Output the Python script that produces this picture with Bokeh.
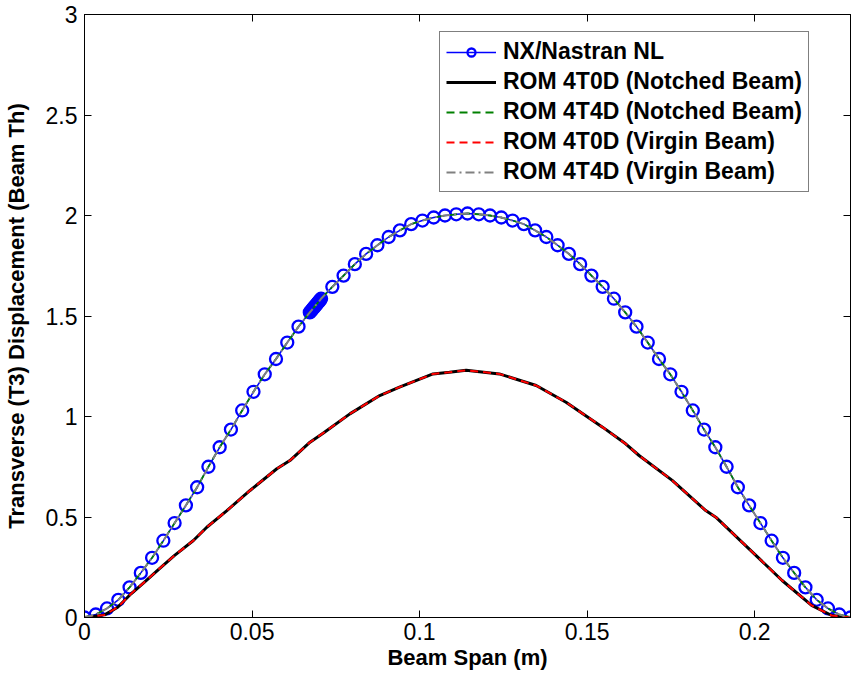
from bokeh.plotting import figure
from bokeh.models import (Range1d, FixedTicker, LinearAxis, Legend, LegendItem)
from bokeh.embed import file_html
from bokeh.resources import INLINE

# ---------------- data ----------------
# NX/Nastran NL nodal displacements (mesh nodes incl. refined notch region)
nastran_x = [0.0, 0.00336, 0.00672, 0.01009, 0.01345, 0.01681, 0.02017, 0.02353,
             0.02689, 0.03026, 0.03362, 0.03698, 0.04034, 0.04370, 0.04706, 0.05043,
             0.05379, 0.05715, 0.06051, 0.06387, 0.06724,
             0.0676, 0.0679, 0.0682, 0.0685, 0.0688, 0.0691, 0.0694, 0.0697, 0.0700, 0.0703,
             0.07060, 0.07396, 0.07732, 0.08068, 0.08404, 0.08741, 0.09077, 0.09413,
             0.09749, 0.10085, 0.10421, 0.10758, 0.11094, 0.11430, 0.11766, 0.12102,
             0.12439, 0.12775, 0.13111, 0.13447, 0.13783, 0.14119, 0.14456, 0.14792,
             0.15128, 0.15464, 0.15800, 0.16136, 0.16473, 0.16809, 0.17145, 0.17481,
             0.17817, 0.18154, 0.18490, 0.18826, 0.19162, 0.19498, 0.19834, 0.20171,
             0.20507, 0.20843, 0.21179, 0.21515, 0.21851, 0.22188, 0.22524, 0.22860]
nastran_y = [0.0, 0.015, 0.045, 0.088, 0.150, 0.222, 0.297, 0.382,
             0.470, 0.558, 0.648, 0.750, 0.847, 0.935, 1.030, 1.123,
             1.210, 1.286, 1.368, 1.447, 1.518,
             1.525, 1.531, 1.537, 1.543, 1.549, 1.555, 1.561, 1.567, 1.573, 1.579,
             1.586, 1.645, 1.701, 1.758, 1.809, 1.852, 1.893, 1.926,
             1.957, 1.975, 1.990, 2.000, 2.006, 2.010, 2.006, 2.000,
             1.990, 1.975, 1.957, 1.926, 1.893, 1.852, 1.809, 1.758,
             1.701, 1.645, 1.586, 1.518, 1.447, 1.368, 1.286, 1.210,
             1.123, 1.030, 0.935, 0.847, 0.750, 0.648, 0.558, 0.470,
             0.382, 0.297, 0.222, 0.150, 0.088, 0.045, 0.015, 0.0]

# ROM 4T4D (notched / virgin) coincide with the Nastran curve
rom4t4d_x = nastran_x
rom4t4d_y = nastran_y

# ROM 4T0D (notched / virgin) lower curve
rom4t0d_x = [0.0, 0.0060, 0.0099, 0.0139, 0.0179, 0.0223, 0.0268, 0.0325, 0.0365,
             0.0425, 0.0494, 0.0574, 0.0613, 0.0673, 0.0712, 0.0792, 0.0881, 0.0940,
             0.1040, 0.1089, 0.1139, 0.1238, 0.1348, 0.1437, 0.1546, 0.1615, 0.1655,
             0.1754, 0.1854, 0.1884, 0.1973, 0.2082, 0.2170, 0.2230, 0.2286]
rom4t0d_y = [0.0, 0.013, 0.051, 0.118, 0.176, 0.242, 0.308, 0.383, 0.449,
             0.532, 0.632, 0.740, 0.781, 0.872, 0.917, 1.013, 1.104, 1.146,
             1.212, 1.220, 1.230, 1.212, 1.154, 1.071, 0.947, 0.864, 0.806,
             0.682, 0.532, 0.499, 0.358, 0.184, 0.060, 0.010, 0.0]

x_ticks = [0, 0.05, 0.1, 0.15, 0.2]
x_tick_labels = ["0", "0.05", "0.1", "0.15", "0.2"]
y_ticks = [0, 0.5, 1, 1.5, 2, 2.5, 3]
y_tick_labels = ["0", "0.5", "1", "1.5", "2", "2.5", "3"]

legend_labels = ["NX/Nastran NL", "ROM 4T0D (Notched Beam)", "ROM 4T4D (Notched Beam)",
                 "ROM 4T0D (Virgin Beam)", "ROM 4T4D (Virgin Beam)"]

FONT = "Liberation Sans"

p = figure(width=851, height=681, output_backend="svg", toolbar_location=None,
           x_range=Range1d(0, 0.2286), y_range=Range1d(0, 3),
           min_border_left=84, min_border_right=1, min_border_top=14,
           min_border_bottom=64, background_fill_color="white",
           border_fill_color="white")
p.grid.visible = False
p.outline_line_color = "black"
p.outline_line_width = 1

def style_axis(ax, ticks, labels, show_labels=True):
    ax.ticker = FixedTicker(ticks=ticks)
    ax.major_label_overrides = {t: l for t, l in zip(ticks, labels)}
    ax.axis_line_color = "black"
    ax.major_tick_line_color = "black"
    ax.major_tick_in = 7
    ax.major_tick_out = 0
    ax.minor_tick_line_color = None
    ax.major_label_text_font = FONT
    ax.major_label_text_color = "black"
    if show_labels:
        ax.major_label_text_font_size = "23px"
    else:
        ax.major_label_text_font_size = "1px"
        ax.major_label_text_alpha = 0
        ax.major_label_standoff = 0

style_axis(p.xaxis[0], x_ticks, x_tick_labels)
style_axis(p.yaxis[0], y_ticks, y_tick_labels)
p.xaxis[0].major_label_standoff = 5
p.yaxis[0].major_label_standoff = 7
p.xaxis.axis_label = "Beam Span (m)"
p.yaxis.axis_label = "Transverse (T3) Displacement (Beam Th)"
for ax in (p.xaxis[0], p.yaxis[0]):
    ax.axis_label_text_font = FONT
    ax.axis_label_text_font_style = "bold"
    ax.axis_label_text_font_size = "22px"
    ax.axis_label_text_color = "black"
p.xaxis[0].axis_label_standoff = 2
p.yaxis[0].axis_label_standoff = 14

top_ax = LinearAxis()
style_axis(top_ax, x_ticks, x_tick_labels, show_labels=False)
p.add_layout(top_ax, "above")
right_ax = LinearAxis()
style_axis(right_ax, y_ticks, y_tick_labels, show_labels=False)
p.add_layout(right_ax, "right")

# ---------------- glyphs ----------------
blue_line = p.line(nastran_x, nastran_y, line_color="#0000ff", line_width=1.5)
blue_pts = p.scatter(nastran_x, nastran_y, marker="circle", size=12,
                     fill_color=None, line_color="#0000ff", line_width=2.3)
black_line = p.line(rom4t0d_x, rom4t0d_y, line_color="black", line_width=3)
green_line = p.line(rom4t4d_x, rom4t4d_y, line_color="#008000", line_width=1.8,
                    line_dash="8 5")
red_line = p.line(rom4t0d_x, rom4t0d_y, line_color="#ff0000", line_width=2,
                  line_dash="8 5")
gray_line = p.line(rom4t4d_x, rom4t4d_y, line_color="#808080", line_width=2,
                   line_dash="9 4 2 4")

legend = Legend(items=[
    LegendItem(label=legend_labels[0], renderers=[blue_line, blue_pts]),
    LegendItem(label=legend_labels[1], renderers=[black_line]),
    LegendItem(label=legend_labels[2], renderers=[green_line]),
    LegendItem(label=legend_labels[3], renderers=[red_line]),
    LegendItem(label=legend_labels[4], renderers=[gray_line]),
], location=(355, 425))
legend.margin = 0
legend.padding = 6
legend.spacing = 3
legend.glyph_width = 50
legend.glyph_height = 20
legend.label_height = 20
legend.label_standoff = 7
legend.label_text_font = "Arial"
legend.label_text_font_style = "bold"
legend.label_text_font_size = "23px"
legend.label_text_color = "black"
legend.border_line_color = "black"
legend.border_line_width = 1
legend.background_fill_color = "white"
legend.background_fill_alpha = 1
p.add_layout(legend)

open("out.html", "w").write(file_html(p, INLINE))
